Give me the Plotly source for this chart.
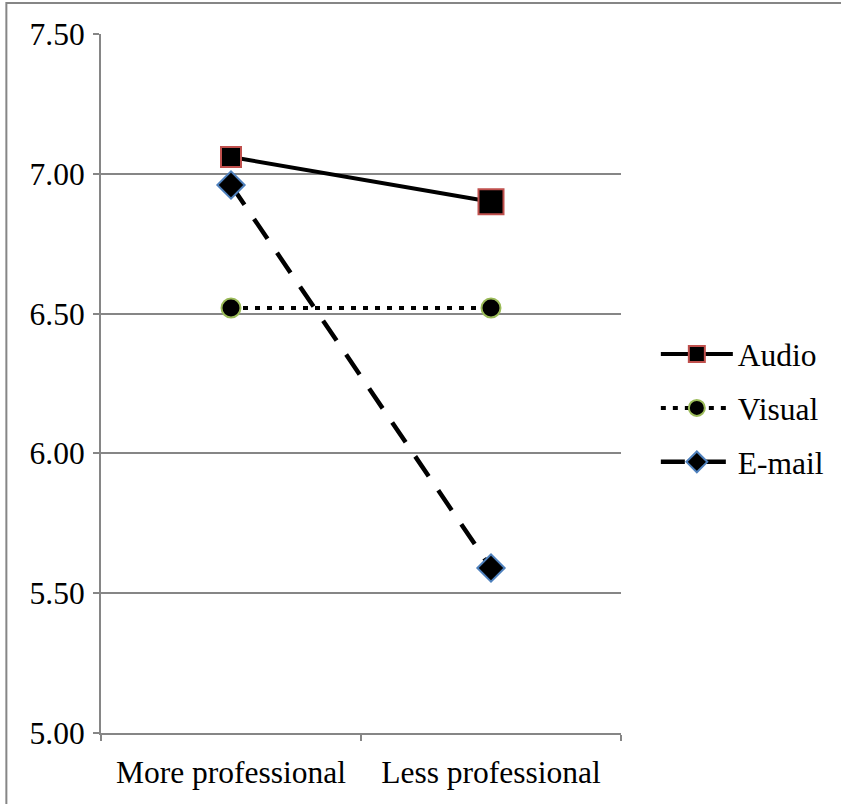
import plotly.graph_objects as go

categories = ["More professional", "Less professional"]
audio = [7.06, 6.90]
visual = [6.52, 6.52]
email = [6.96, 5.59]
y_ticks = [5.00, 5.50, 6.00, 6.50, 7.00, 7.50]

FONT = "Liberation Serif"
FS = 31.5
fig = go.Figure()

fig.add_trace(go.Scatter(
    x=categories, y=audio, name="Audio", mode="lines+markers", legendgroup="a",
    line=dict(color="black", width=4),
    marker=dict(symbol="square", size=[20, 25], color="black", opacity=1,
                line=dict(color="#C0504D", width=2)),
))
fig.add_trace(go.Scatter(
    x=categories, y=visual, name="Visual", mode="lines+markers", legendgroup="v",
    line=dict(color="black", width=4, dash="5px,7px"),
    marker=dict(symbol="circle", size=19, color="black", opacity=1,
                line=dict(color="#9BBB59", width=2)),
))
fig.add_trace(go.Scatter(
    x=categories, y=email, name="E-mail", mode="lines+markers", legendgroup="e",
    line=dict(color="black", width=4.5, dash="24px,17px"),
    marker=dict(symbol="diamond", size=21, color="black", opacity=1,
                line=dict(color="#4F81BD", width=2)),
))

fig.update_layout(
    width=841, height=804,
    margin=dict(l=101, r=218, t=34, b=71),
    paper_bgcolor="white", plot_bgcolor="white",
    font=dict(family=FONT, size=FS, color="black"),
    showlegend=True,
    legend=dict(x=1.067, y=0.465, xanchor="left", yanchor="middle",
                font=dict(family=FONT, size=FS), itemwidth=72,
                tracegroupgap=10, bgcolor="rgba(0,0,0,0)"),
    xaxis=dict(
        type="category", range=[-0.5, 1.5], tickson="boundaries",
        showgrid=False, showline=True, linecolor="#868686", linewidth=2,
        ticks="outside", ticklen=6, tickcolor="#868686", tickwidth=2,
        ticklabelstandoff=10, zeroline=False,
        tickfont=dict(family=FONT, size=FS, color="black"),
    ),
    yaxis=dict(
        range=[5.0, 7.5], tickvals=y_ticks, tickformat=".2f",
        showgrid=True, gridcolor="#868686", gridwidth=2,
        showline=True, linecolor="#868686", linewidth=2,
        ticks="outside", ticklen=6, tickcolor="#868686", tickwidth=2,
        ticklabelstandoff=2, zeroline=False,
        tickfont=dict(family=FONT, size=FS, color="black"),
    ),
    shapes=[dict(type="rect", xref="paper", yref="paper",
                 x0=(6 - 101) / 522, x1=(850 - 101) / 522,
                 y0=(733 - 815) / 699, y1=(733 - 3) / 699,
                 line=dict(color="#868686", width=2), layer="below")],
)

fig.write_html("out.html", config={"displayModeBar": False},
               post_script="document.body.style.margin='0';")
